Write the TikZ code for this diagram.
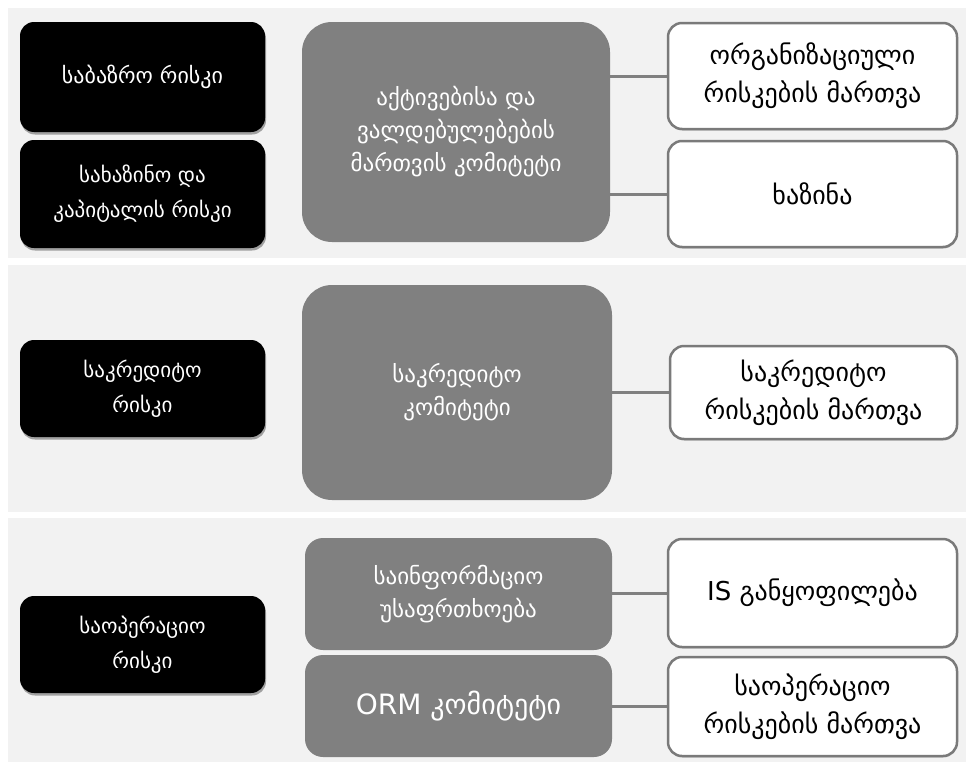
\documentclass[tikz,border=0pt]{standalone}
\usepackage{fontspec}
\setmainfont{DejaVu Sans}
\usetikzlibrary{shadows}
\definecolor{panelbg}{HTML}{F2F2F2}
\definecolor{midgray}{HTML}{808080}
\definecolor{edgegray}{HTML}{7A7A7A}
\tikzset{
  panel/.style={fill=panelbg, draw=none},
  riskbox/.style={fill=black, text=white, rounded corners=14pt, align=center,
    font=\fontsize{21}{35}\selectfont, inner sep=0pt,
    drop shadow={shadow xshift=1pt, shadow yshift=-2.5pt, fill=black!45, opacity=0.8}},
  combox/.style={fill=midgray, text=white, align=center, inner sep=0pt,
    font=\fontsize{23}{33}\selectfont},
  unitbox/.style={fill=white, draw=edgegray, line width=2.5pt, rounded corners=14pt,
    align=center, inner sep=0pt, font=\fontsize{26}{38}\selectfont,
    drop shadow={shadow xshift=0.5pt, shadow yshift=-1.5pt, fill=black!30, opacity=0.6}},
  link/.style={draw=midgray, line width=3pt}
}
\begin{document}
\begin{tikzpicture}[x=1pt, y=-1pt]
\useasboundingbox (0,0) rectangle (971,771);
% panels
\fill[panel] (8,8) rectangle (966,258);
\fill[panel] (8,265) rectangle (966,512);
\fill[panel] (8,518) rectangle (966,762);

% panel 1
\node[riskbox, minimum width=245pt, minimum height=110pt, font=\fontsize{22}{35}\selectfont] (r1) at (142.5,77) {საბაზრო რისკი};
\node[riskbox, minimum width=245pt, minimum height=108pt] (r2) at (142.5,194) {სახაზინო და\\კაპიტალის რისკი};
\node[combox, rounded corners=30pt, minimum width=308pt, minimum height=220pt] (c1) at (456,132) {აქტივებისა და\\ვალდებულებების\\მართვის კომიტეტი};
\node[unitbox, minimum width=289pt, minimum height=106pt] (u1) at (812.5,76) {ორგანიზაციული\\რისკების მართვა};
\node[unitbox, minimum width=289pt, minimum height=106pt] (u2) at (812.5,194) {ხაზინა};
\draw[link] (c1.east |- u1) -- (u1.west);
\draw[link] (c1.east |- u2) -- (u2.west);

% panel 2
\node[riskbox, minimum width=245pt, minimum height=97pt] (r3) at (142.5,388.5) {საკრედიტო\\რისკი};
\node[combox, rounded corners=30pt, minimum width=310pt, minimum height=215pt] (c2) at (457,392.5) {საკრედიტო\\კომიტეტი};
\node[unitbox, minimum width=287pt, minimum height=93pt] (u3) at (813.5,392.5) {საკრედიტო\\რისკების მართვა};
\draw[link] (c2.east |- u3) -- (u3.west);

% panel 3
\node[riskbox, minimum width=245pt, minimum height=97pt] (r4) at (142.5,644.5) {საოპერაციო\\რისკი};
\node[combox, rounded corners=18pt, minimum width=307pt, minimum height=112pt] (c3) at (458.5,594) {საინფორმაციო\\უსაფრთხოება};
\node[combox, rounded corners=18pt, minimum width=307pt, minimum height=102pt, font=\fontsize{28}{32}\selectfont] (c4) at (458.5,706) {ORM კომიტეტი};
\node[unitbox, minimum width=289pt, minimum height=108pt] (u4) at (812.5,593) {IS განყოფილება};
\node[unitbox, minimum width=289pt, minimum height=99pt] (u5) at (812.5,706.5) {საოპერაციო\\რისკების მართვა};
\draw[link] (c3.east |- u4) -- (u4.west);
\draw[link] (c4.east |- u5) -- (u5.west);
\end{tikzpicture}
\end{document}
